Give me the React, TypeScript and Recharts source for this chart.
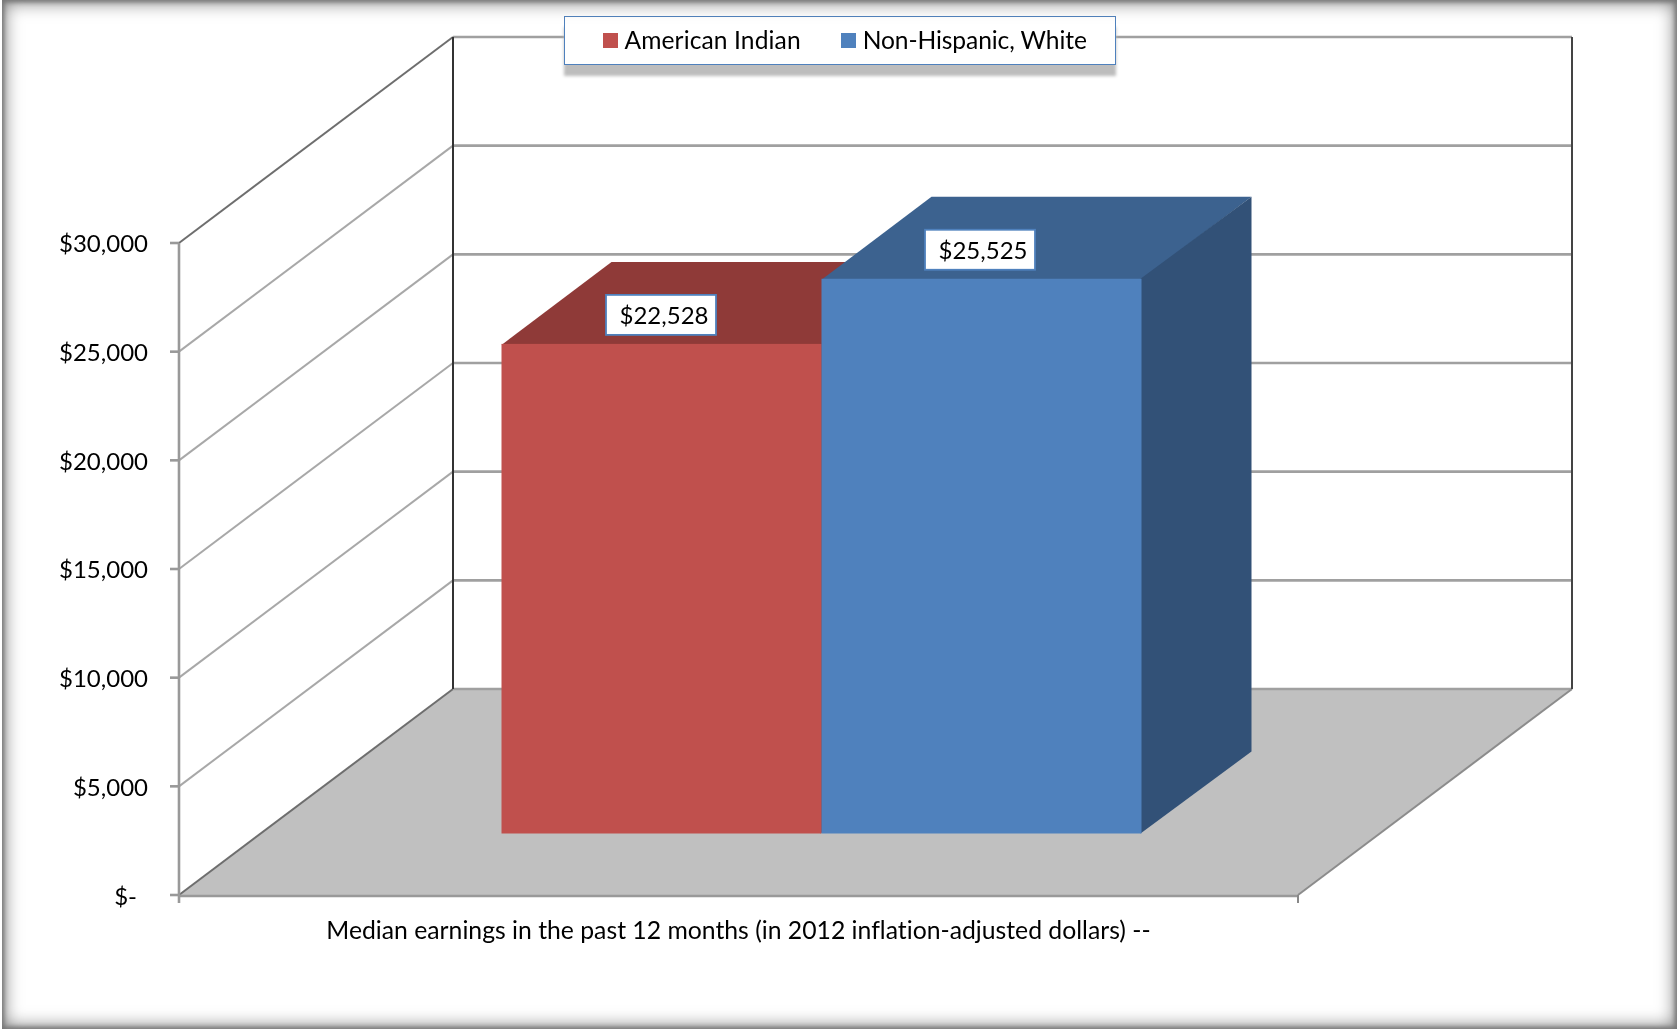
import { Bar, BarChart, CartesianGrid, LabelList, Legend, XAxis, YAxis } from "recharts";

const categories = ["Median earnings in the past 12 months (in 2012 inflation-adjusted dollars) --"];
const americanIndian = [22528];
const nonHispanicWhite = [25525];
const yTicks = [0, 5000, 10000, 15000, 20000, 25000, 30000];

const data = categories.map((category, i) => ({
  category,
  americanIndian: americanIndian[i],
  nonHispanicWhite: nonHispanicWhite[i]
}));

const FONT = "Lato, Carlito, sans-serif";
const noLigatures = { fontVariantLigatures: "none" } as const;
// fake 3d: how far the back wall and the bars sit from the front plane
const WALL = { dx: 274, dy: -206 };
const BAR_OFFSET = { dx: 82.5, dy: -61.5 };
const BAR_DEPTH = { dx: 110, dy: -82 };
const PLOT_TOP = 243;
const PLOT_BOTTOM = 895;

const money = (v: number) => "$" + v.toLocaleString("en-US");

function WallLine({ x1, y1, x2 }: any) {
  const isFloor = Math.abs(y1 - PLOT_BOTTOM) < 1;
  const isTop = Math.abs(y1 - PLOT_TOP) < 1;
  const bx1 = x1 + WALL.dx;
  const bx2 = x2 + WALL.dx;
  const by = y1 + WALL.dy;
  const edge = isFloor || isTop;
  return (
    <g>
      {isFloor && (
        <polygon points={`${x1},${y1} ${x2},${y1} ${bx2},${by} ${bx1},${by}`} fill="#c0c0c0" />
      )}
      <line x1={x1} y1={y1} x2={bx1} y2={by} stroke={edge ? "#6e6e6e" : "#a8a8a8"} strokeWidth={2} />
      <line x1={bx1} y1={by} x2={bx2} y2={by} stroke="#a0a0a0" strokeWidth={2.6} />
      {isFloor && (
        <g>
          <line x1={x2} y1={y1} x2={bx2} y2={by} stroke="#8c8c8c" strokeWidth={2} />
          <line x1={x1} y1={y1 + 1} x2={x2} y2={y1 + 1} stroke="#999" strokeWidth={2.6} />
          <line x1={x1} y1={y1} x2={x1} y2={y1 + 8} stroke="#999" strokeWidth={2.6} />
          <line x1={x2} y1={y1} x2={x2} y2={y1 + 8} stroke="#888" strokeWidth={2} />
        </g>
      )}
      {isTop && (
        <g>
          <line x1={bx1} y1={by} x2={bx1} y2={PLOT_BOTTOM + WALL.dy} stroke="#333" strokeWidth={2} />
          <line x1={bx2} y1={by} x2={bx2} y2={PLOT_BOTTOM + WALL.dy} stroke="#444" strokeWidth={2} />
        </g>
      )}
    </g>
  );
}

function YTick({ x, y, payload }: any) {
  const zero = payload.value === 0;
  return (
    <text x={zero ? x - 11 : x} y={y + (zero ? 2 : 1)} dy="0.35em" textAnchor="end" fontSize={24} fontFamily={FONT} fill="#000" style={noLigatures}>
      {zero ? "$-" : money(payload.value)}
    </text>
  );
}

function makeBox(front: string, top: string, side: string) {
  return function Box({ x, y, width, height }: any) {
    const fx = x + BAR_OFFSET.dx;
    const fy = y + BAR_OFFSET.dy;
    const { dx, dy } = BAR_DEPTH;
    const bottom = fy + height;
    // top and side run 1px under the front face so nothing shows through the seam
    return (
      <g>
        <polygon points={`${fx},${fy + 1} ${fx + width},${fy + 1} ${fx + width + dx},${fy + dy} ${fx + dx},${fy + dy}`} fill={top} />
        <polygon points={`${fx + width - 1},${fy} ${fx + width + dx},${fy + dy} ${fx + width + dx},${bottom + dy} ${fx + width - 1},${bottom}`} fill={side} />
        <rect x={fx} y={fy} width={width} height={height} fill={front} />
      </g>
    );
  };
}

function BoxLabel({ x, y, width, value }: any) {
  const cx = x + 82 + width / 2 + (value > 25000 ? -1 : 0);
  const cy = y + BAR_OFFSET.dy - 29;
  return (
    <g>
      <rect x={cx - 55} y={cy - 20} width={110} height={40} fill="#fff" stroke="#4f81bd" strokeWidth={1.8} />
      <text x={cx + 3} y={cy + 1} dy="0.35em" textAnchor="middle" fontSize={24} fontFamily={FONT} fill="#000" style={noLigatures}>
        {money(value)}
      </text>
    </g>
  );
}

function LegendBox({ payload }: any) {
  return (
    <div style={{ display: "flex", alignItems: "center", height: "100%", paddingLeft: 38, paddingBottom: 2, boxSizing: "border-box", fontFamily: FONT, fontSize: 24.6, color: "#000", whiteSpace: "nowrap", ...noLigatures }}>
      {(payload || []).map((item: any) => (
        <span key={item.value} style={{ display: "flex", alignItems: "center", marginRight: 40 }}>
          <span style={{ width: 15, height: 15, background: item.color, marginRight: 7, marginTop: 2 }} />
          <span style={{ letterSpacing: item.value.length > 15 ? -0.1 : 0.1 }}>{item.value}</span>
        </span>
      ))}
    </div>
  );
}

export default function App() {
  return (
    <div
      style={{
        position: "absolute",
        left: 0,
        top: 0,
        width: 1677,
        height: 1029,
        background: "#fff",
        overflow: "hidden"
      }}
    >
      <div style={{ filter: "blur(0.45px)" }}>
        <BarChart
          width={1677}
          height={1029}
          data={data}
          margin={{ top: PLOT_TOP, right: 379, left: 0, bottom: 74 }}
          barCategoryGap={240}
          barGap={0}
        >
          <CartesianGrid vertical={false} horizontal={WallLine as any} />
          <XAxis
            dataKey="category"
            height={60}
            axisLine={false}
            tickLine={false}
            interval={0}
            tickMargin={20}
            tick={{ fill: "#000", fontSize: 24.75, fontFamily: FONT, style: noLigatures }}
          />
          <YAxis
            width={179}
            domain={[0, 30000]}
            ticks={yTicks}
            tickSize={9}
            tickMargin={22}
            axisLine={{ stroke: "#999", strokeWidth: 2.6 }}
            tickLine={{ stroke: "#999", strokeWidth: 2.6 }}
            tick={YTick as any}
          />
          <Legend
            verticalAlign="middle"
            content={LegendBox as any}
            wrapperStyle={{
              left: 563.5,
              top: 16,
              width: 552,
              height: 49,
              background: "#fff",
              border: "1.5px solid #4f81bd",
              boxSizing: "border-box",
              boxShadow: "0 11px 3px #bdbdbd"
            }}
          />
          <Bar dataKey="americanIndian" name="American Indian" fill="#c0504d" isAnimationActive={false} shape={makeBox("#c0504d", "#8f3a38", "#8a3735")}>
            <LabelList dataKey="americanIndian" content={BoxLabel as any} />
          </Bar>
          <Bar dataKey="nonHispanicWhite" name="Non-Hispanic, White" fill="#4f81bd" isAnimationActive={false} shape={makeBox("#4f81bd", "#3c628f", "#325177")}>
            <LabelList dataKey="nonHispanicWhite" content={BoxLabel as any} />
          </Bar>
        </BarChart>
      </div>
      {/* soft grey frame of the original screenshot */}
      <div
        style={{
          position: "absolute",
          left: 2,
          top: 0,
          right: 0,
          bottom: 0,
          pointerEvents: "none",
          boxShadow: "inset 0 0 18px 2px #777, inset 0 0 4px 2px #777"
        }}
      />
    </div>
  );
}
